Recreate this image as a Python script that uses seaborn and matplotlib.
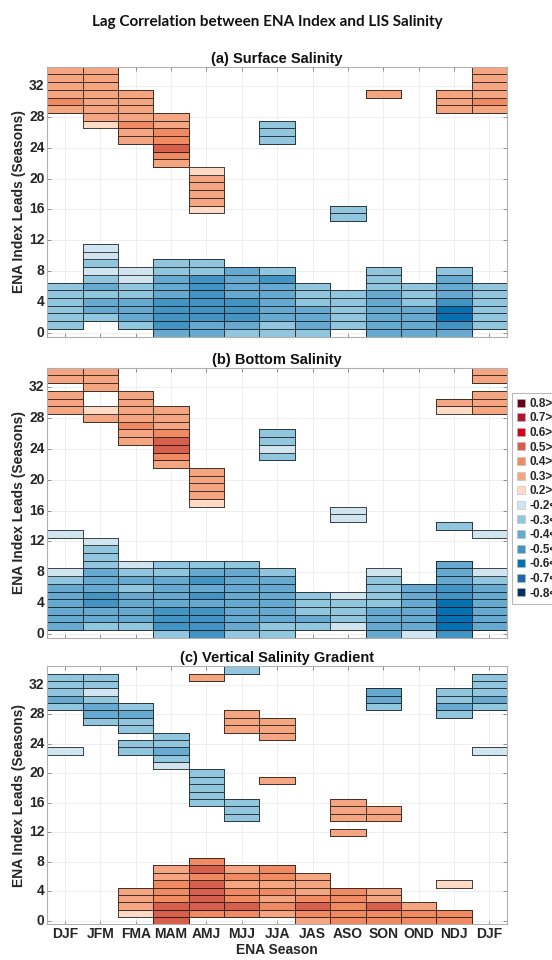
import numpy as np
import matplotlib
matplotlib.use('Agg')
import matplotlib.pyplot as plt
from matplotlib.colors import ListedColormap
from matplotlib.lines import Line2D
import seaborn as sns

seasons = ['DJF', 'JFM', 'FMA', 'MAM', 'AMJ', 'MJJ', 'JJA', 'JAS', 'ASO', 'SON', 'OND', 'NDJ', 'DJF']
lead_ticks = [0, 4, 8, 12, 16, 20, 24, 28, 32]

# correlation bins of the legend, and the code used for them in the grids below
bin_labels = ['0.8>', '0.7>', '0.6>', '0.5>', '0.4>', '0.3>', '0.2>',
              '-0.2<', '-0.3<', '-0.4<', '-0.5<', '-0.6<', '-0.7<', '-0.8<']
bin_codes = '8765432abcdefg'
bin_colors = ['#67001f', '#b2182b', '#d0021b', '#d6604d', '#ef8a62', '#f4a582', '#fddbc7',
              '#d1e5f0', '#92c5de', '#67a9cf', '#4393c3', '#0571b0', '#2166ac', '#053061']

# one string per lead, 34 at the top down to 0; one character per ENA season ('.' = not significant)
surface = [
    "33..........3",
    "33..........3",
    "33..........3",
    "333......3.33",
    "433........34",
    "333........33",
    ".333.........",
    ".243..b......",
    "..34..b......",
    "..34..b......",
    "...5.........",
    "...4.........",
    "...3.........",
    "....2........",
    "....3........",
    "....3........",
    "....3........",
    "....3........",
    "....2...b....",
    "........b....",
    ".............",
    ".............",
    ".............",
    ".a...........",
    ".a...........",
    ".b.bb........",
    ".aabbcb..b.b.",
    ".bacdcd..b.c.",
    "bcbcdccb.bbcb",
    "bbbcdccbbcbcb",
    "bccdddcbbcbdb",
    "bccdddccbcceb",
    "bbcdddccbcceb",
    "b.bdccbcbccdb",
    "...ccbbb.ccc.",
]

bottom = [
    "33..........3",
    "33..........3",
    ".3...........",
    "3.3.........3",
    "3.3........33",
    "3233.......23",
    ".333.........",
    "..43.........",
    "..34..b......",
    "..35..b......",
    "...5..a......",
    "...4..b......",
    "...3.........",
    "....3........",
    "....3........",
    "....3........",
    "....3........",
    "....2........",
    "........a....",
    "........a....",
    "...........b.",
    "a...........a",
    ".a...........",
    ".b...........",
    ".b...........",
    ".babbb.....c.",
    "acbbccb..a.ca",
    "bcccdcc..b.cb",
    "ccbcccc..bcdc",
    "cdccdccbabcdc",
    "cdcccccbbbcec",
    "cccddccbbccec",
    "cccddcccbccec",
    "cbbddcbbaccec",
    "...bdbb..cad.",
]

gradient = [
    ".....b.......",
    "bb..3.......b",
    "bb..........b",
    "ba.......c.bb",
    "cb.......c.bc",
    "bcb......b.cb",
    ".cc..3.....b.",
    ".bb..33......",
    "..b..33......",
    "...b..3......",
    "..bb.........",
    "a.bc........a",
    "...b.........",
    "...a.........",
    "....b........",
    "....b.3......",
    "....b........",
    "....b........",
    "....bb..3....",
    ".....b..33...",
    ".....b..33...",
    ".............",
    "........3....",
    ".............",
    ".............",
    ".............",
    "....4........",
    "...3534......",
    "...34443.....",
    "...45333...2.",
    "..34544343...",
    "..34543443...",
    "..355545453..",
    "..2544344444.",
    "...5...34444.",
]

panels = [
    ('(a) Surface Salinity', surface, [0.0857, 0.6494, 0.8328, 0.2811]),
    ('(b) Bottom Salinity', bottom, [0.0857, 0.3355, 0.8328, 0.2815]),
    ('(c) Vertical Salinity Gradient', gradient, [0.0857, 0.0371, 0.8328, 0.2689]),
]


def to_matrix(rows):
    rows = rows[::-1]
    m = np.full((len(rows), len(seasons)), np.nan)
    for i, s in enumerate(rows):
        assert len(s) == len(seasons), s
        for j, ch in enumerate(s):
            if ch != '.':
                m[i, j] = bin_codes.index(ch)
    return m


sns.set_style('white')
plt.rcParams['font.family'] = ['Liberation Sans', 'DejaVu Sans']

fig = plt.figure(figsize=(5.52, 9.6), dpi=100)
cmap = ListedColormap(bin_colors)
tick_col = '#262626'

for k, (title, rows, pos) in enumerate(panels):
    ax = fig.add_axes(pos)
    m = to_matrix(rows)
    sns.heatmap(m, ax=ax, cmap=cmap, vmin=-0.5, vmax=len(bin_colors) - 0.5,
                cbar=False, linewidths=0.72, linecolor='k')
    ax.invert_yaxis()
    mesh = ax.collections[0]
    edges = np.zeros((m.size, 4))
    edges[~np.isnan(m.ravel()), 3] = 0.7
    mesh.set_edgecolor(edges)

    for s in ax.spines.values():
        s.set_visible(True)
        s.set_color('#b0b0b0')
        s.set_linewidth(0.8)
        s.set_zorder(5)
    ax.set_xticks(np.arange(len(seasons)) + 0.5)
    ax.set_yticks(np.array(lead_ticks) + 0.5)
    ax.set_yticklabels([str(t) for t in lead_ticks], rotation=0)
    if k == 2:
        ax.set_xticklabels(seasons, rotation=0)
        ax.set_xlabel('ENA Season', fontsize=10, fontweight='bold', color=tick_col, labelpad=1)
    else:
        ax.set_xticklabels([])
        ax.set_xlabel('')
    ax.grid(True, color='#ebebeb', linewidth=0.6)
    ax.set_axisbelow(True)
    ax.tick_params(direction='in', length=3, width=0.6, color='#808080',
                   top=True, right=True, bottom=True, left=True,
                   labelsize=10, labelcolor=tick_col, pad=2)
    for lab in ax.get_xticklabels() + ax.get_yticklabels():
        lab.set_fontweight('bold')
    ax.set_ylabel('ENA Index Leads (Seasons)', fontsize=10, fontweight='bold', color=tick_col)
    ax.yaxis.set_label_coords(-0.046, 0.5)
    ax.set_title(title, fontsize=10.5, fontweight='bold', color='#111111', pad=3)

fig.text(0.485, 0.977, 'Lag Correlation between ENA Index and LIS Salinity',
         ha='center', va='center', fontsize=11, fontweight='bold', color='#111111',
         family=['Lato', 'DejaVu Sans'])

handles = [Line2D([], [], marker='s', linestyle='none', markersize=6,
                  markerfacecolor=c, markeredgecolor='#bbbbbb', markeredgewidth=0.4)
           for c in bin_colors]
leg = fig.legend(handles, bin_labels, loc='upper left', bbox_to_anchor=(0.9275, 0.5906),
                 borderaxespad=0, frameon=True, fancybox=False, fontsize=8.5,
                 labelspacing=0.22, handlelength=0.8, handletextpad=0.3, borderpad=0.4)
leg.get_frame().set_edgecolor('#a8a8a8')
leg.get_frame().set_linewidth(0.8)
for t in leg.get_texts():
    t.set_fontweight('bold')
    t.set_color(tick_col)

fig.savefig('out.png', dpi=100)
